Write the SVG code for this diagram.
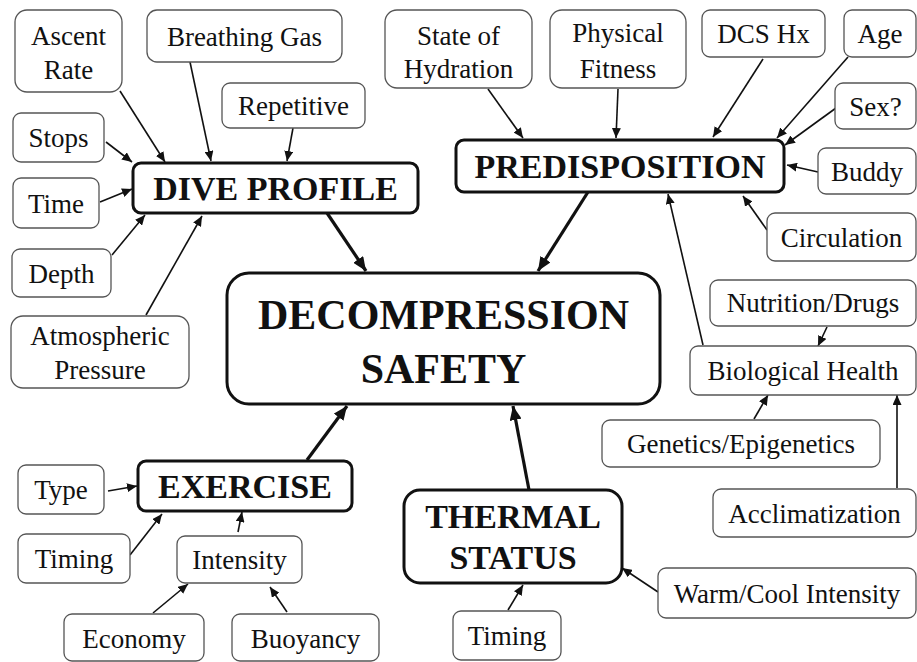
<svg xmlns="http://www.w3.org/2000/svg" width="917" height="662" viewBox="0 0 917 662" font-family="'Liberation Serif', 'Times New Roman', serif">
<style>
.b{fill:#fff;stroke:#555;stroke-width:1.3}
.bx{fill:#fff;stroke:#111;stroke-width:3}
.sm{font-family:'Liberation Serif',serif;font-size:27px;fill:#111;text-anchor:middle}
.bd{font-family:'Liberation Serif',serif;font-size:34px;font-weight:bold;fill:#111;text-anchor:middle}
.big{font-family:'Liberation Serif',serif;font-size:42px;font-weight:bold;fill:#111;text-anchor:middle}
.c line{stroke:#111;stroke-width:1.6;marker-end:url(#a)}
.c line.k{stroke-width:3.2;marker-end:url(#A)}
</style>
<defs>
<marker id="a" markerUnits="userSpaceOnUse" markerWidth="11" markerHeight="9" refX="10" refY="4.5" orient="auto"><path d="M0,0 L10,4.5 L0,9 z" fill="#111"/></marker>
<marker id="A" markerUnits="userSpaceOnUse" markerWidth="15" markerHeight="12" refX="14" refY="6" orient="auto"><path d="M0,0 L14,6 L0,12 z" fill="#111"/></marker>
</defs>
<rect width="917" height="662" fill="#fff"/>
<g class="c" id="connectors">
<line x1="120" y1="91" x2="165" y2="162"/>
<line x1="190" y1="62" x2="211" y2="161"/>
<line x1="293" y1="128" x2="287" y2="161"/>
<line x1="106" y1="142" x2="132" y2="162"/>
<line x1="100" y1="202" x2="132" y2="189"/>
<line x1="112" y1="255" x2="145" y2="215"/>
<line x1="146" y1="315" x2="202" y2="216"/>
<line class="k" x1="327" y1="213" x2="366" y2="271"/>
<line class="k" x1="588" y1="192" x2="538" y2="271"/>
<line x1="488" y1="89" x2="523" y2="138"/>
<line x1="618" y1="89" x2="616" y2="138"/>
<line x1="763" y1="59" x2="713" y2="137"/>
<line x1="848" y1="57" x2="777" y2="138"/>
<line x1="836" y1="108" x2="785" y2="145"/>
<line x1="818" y1="172" x2="787" y2="165"/>
<line x1="767" y1="230" x2="743" y2="196"/>
<line x1="703" y1="345" x2="668" y2="194"/>
<line x1="827" y1="327" x2="818" y2="346"/>
<line x1="754" y1="419" x2="768" y2="395"/>
<line x1="897" y1="488" x2="897" y2="395"/>
<line class="k" x1="529" y1="490" x2="513" y2="406"/>
<line x1="658" y1="592" x2="622" y2="568"/>
<line x1="508" y1="610" x2="523" y2="585"/>
<line class="k" x1="307" y1="460" x2="347" y2="406"/>
<line x1="108" y1="491" x2="137" y2="486"/>
<line x1="130" y1="555" x2="162" y2="514"/>
<line x1="238" y1="532" x2="242" y2="512"/>
<line x1="153" y1="613" x2="188" y2="584"/>
<line x1="287" y1="612" x2="270" y2="587"/>
</g>
<g id="ascent"><rect class="b" x="15" y="10" width="107" height="82" rx="12"/><text class="sm" x="68.5" y="45">Ascent</text><text class="sm" x="68.5" y="79">Rate</text></g>
<g id="breathing"><rect class="b" x="147" y="10" width="195" height="52" rx="10"/><text class="sm" x="244.5" y="46">Breathing Gas</text></g>
<g id="repetitive"><rect class="b" x="222" y="83" width="143" height="45" rx="8"/><text class="sm" x="293.5" y="115">Repetitive</text></g>
<g id="stops"><rect class="b" x="13" y="113" width="91" height="49" rx="8"/><text class="sm" x="58.5" y="147">Stops</text></g>
<g id="time"><rect class="b" x="13" y="178" width="86" height="50" rx="8"/><text class="sm" x="56" y="213">Time</text></g>
<g id="depth"><rect class="b" x="12" y="249" width="99" height="48" rx="8"/><text class="sm" x="61.5" y="283">Depth</text></g>
<g id="atmospheric"><rect class="b" x="11" y="316" width="178" height="72" rx="12"/><text class="sm" x="100" y="345">Atmospheric</text><text class="sm" x="100" y="379">Pressure</text></g>
<g id="dive-profile"><rect class="bx" x="133" y="163" width="285" height="50" rx="8"/><text class="bd" x="275.5" y="200">DIVE PROFILE</text></g>
<g id="hydration"><rect class="b" x="385" y="10" width="147" height="78" rx="12"/><text class="sm" x="458.5" y="45">State of</text><text class="sm" x="458.5" y="78">Hydration</text></g>
<g id="fitness"><rect class="b" x="550" y="10" width="136" height="78" rx="12"/><text class="sm" x="618" y="42">Physical</text><text class="sm" x="618" y="78">Fitness</text></g>
<g id="dcs"><rect class="b" x="702" y="10" width="123" height="47" rx="8"/><text class="sm" x="763.5" y="43">DCS Hx</text></g>
<g id="age"><rect class="b" x="844" y="10" width="72" height="47" rx="8"/><text class="sm" x="880" y="43">Age</text></g>
<g id="sex"><rect class="b" x="835" y="83" width="81" height="46" rx="8"/><text class="sm" x="875.5" y="116">Sex?</text></g>
<g id="predisposition"><rect class="bx" x="456" y="140" width="328" height="52" rx="8"/><text class="bd" x="620" y="178">PREDISPOSITION</text></g>
<g id="buddy"><rect class="b" x="818" y="148" width="98" height="46" rx="8"/><text class="sm" x="867" y="181">Buddy</text></g>
<g id="circulation"><rect class="b" x="767" y="213" width="149" height="48" rx="8"/><text class="sm" x="841.5" y="247">Circulation</text></g>
<g id="nutrition"><rect class="b" x="710" y="280" width="206" height="46" rx="8"/><text class="sm" x="813" y="312">Nutrition/Drugs</text></g>
<g id="biological"><rect class="b" x="690" y="346" width="226" height="49" rx="8"/><text class="sm" x="803" y="380">Biological Health</text></g>
<g id="genetics"><rect class="b" x="602" y="420" width="278" height="47" rx="8"/><text class="sm" x="741" y="453">Genetics/Epigenetics</text></g>
<g id="acclimatization"><rect class="b" x="713" y="489" width="203" height="48" rx="8"/><text class="sm" x="814.5" y="523">Acclimatization</text></g>
<g id="warmcool"><rect class="b" x="658" y="568" width="258" height="50" rx="8"/><text class="sm" x="787" y="603">Warm/Cool Intensity</text></g>
<g id="decompression"><rect class="bx" x="227" y="273" width="433" height="131" rx="22"/><text class="big" x="443.5" y="329">DECOMPRESSION</text><text class="big" x="443.5" y="383">SAFETY</text></g>
<g id="thermal"><rect class="bx" x="404" y="490" width="218" height="93" rx="16"/><text class="bd" x="513" y="528">THERMAL</text><text class="bd" x="513" y="569">STATUS</text></g>
<g id="timing-thermal"><rect class="b" x="453" y="611" width="108" height="49" rx="8"/><text class="sm" x="507" y="645">Timing</text></g>
<g id="exercise"><rect class="bx" x="138" y="461" width="214" height="50" rx="8"/><text class="bd" x="245" y="498">EXERCISE</text></g>
<g id="type"><rect class="b" x="18" y="465" width="86" height="49" rx="8"/><text class="sm" x="61" y="499">Type</text></g>
<g id="timing-ex"><rect class="b" x="18" y="534" width="112" height="49" rx="8"/><text class="sm" x="74" y="568">Timing</text></g>
<g id="intensity"><rect class="b" x="177" y="536" width="125" height="47" rx="8"/><text class="sm" x="239.5" y="569">Intensity</text></g>
<g id="economy"><rect class="b" x="64" y="614" width="140" height="47" rx="8"/><text class="sm" x="134" y="648">Economy</text></g>
<g id="buoyancy"><rect class="b" x="232" y="614" width="147" height="47" rx="8"/><text class="sm" x="305.5" y="648">Buoyancy</text></g>
</svg>
